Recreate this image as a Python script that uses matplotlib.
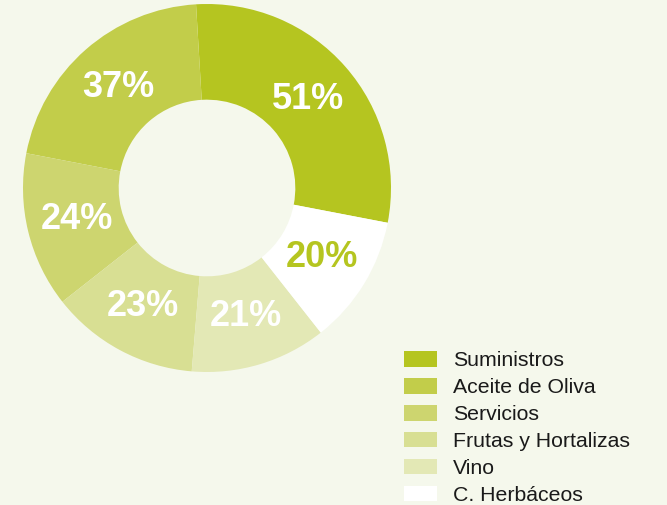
import numpy as np
import matplotlib
matplotlib.use("Agg")
import matplotlib.pyplot as plt

# Datos del gráfico
categorias = ["Suministros", "Aceite de Oliva", "Servicios",
              "Frutas y Hortalizas", "Vino", "C. Herbáceos"]
valores = [51, 37, 24, 23, 21, 20]
etiquetas = ["51%", "37%", "24%", "23%", "21%", "20%"]
colores = ["#b5c520", "#c2cd4a", "#cdd56f", "#d8df93", "#e3e8b5", "#ffffff"]
color_texto = ["white", "white", "white", "white", "white", "#b5c520"]

FONDO = "#f5f8ec"
plt.rcParams["font.family"] = ["Liberation Sans", "DejaVu Sans"]

fig = plt.figure(figsize=(6.67, 5.05), dpi=100, facecolor=FONDO)
ax = fig.add_axes([23 / 667, (505 - 188 - 184) / 505, 368 / 667, 368 / 505])
ax.set_facecolor(FONDO)

wedges, _ = ax.pie(valores, colors=colores, startangle=-10.9, counterclock=True,
                   radius=1.0, wedgeprops=dict(width=0.52, linewidth=0))

# Etiquetas de porcentaje en el centro de cada sector
for w, txt, col in zip(wedges, etiquetas, color_texto):
    ang = np.deg2rad((w.theta1 + w.theta2) / 2)
    r = 0.73
    ax.text(r * np.cos(ang), r * np.sin(ang), txt, ha="center", va="center",
            fontsize=26, fontweight="bold", color=col)

ax.set_xlim(-1, 1)
ax.set_ylim(-1, 1)
ax.set_aspect("equal")
ax.axis("off")

leg = fig.legend(wedges, categorias, loc="upper left",
                 bbox_to_anchor=(404 / 667, 1 - 351 / 505),
                 frameon=False, fontsize=15.3, borderpad=0, borderaxespad=0,
                 handlelength=1.56, handleheight=0.76, handletextpad=0.75,
                 labelspacing=0.36)
for t in leg.get_texts():
    t.set_color("#1a1a1a")

fig.savefig("out.png", dpi=100, facecolor=FONDO)
